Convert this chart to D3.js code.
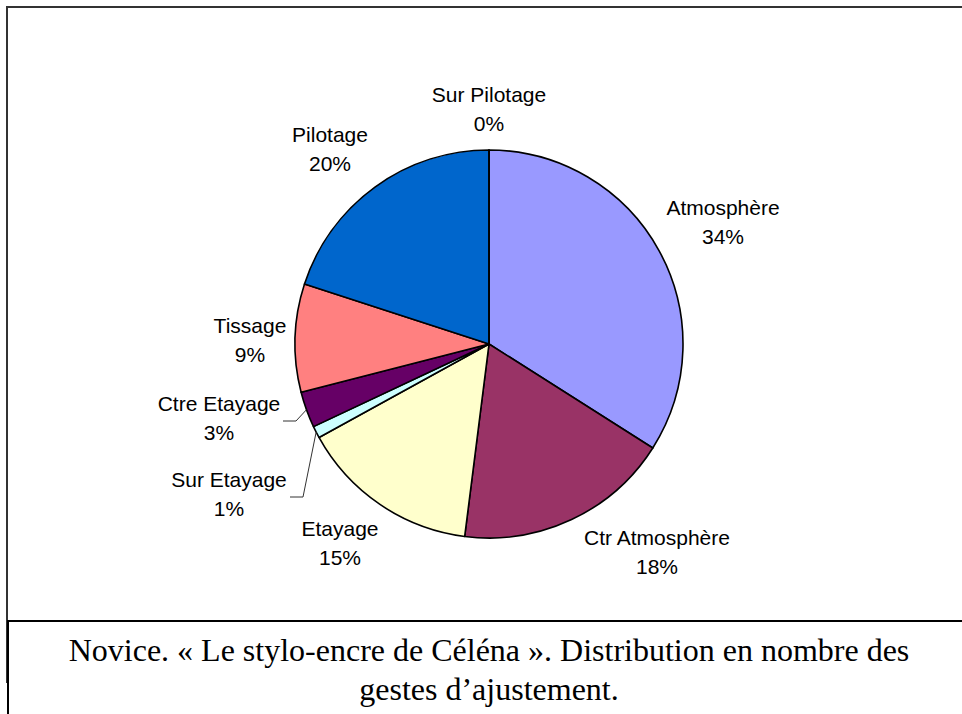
<!DOCTYPE html>
<html>
<head>
<meta charset="utf-8">
<script src="https://cdn.jsdelivr.net/npm/d3@7"></script>
<style>
  body { margin: 0; background: #fff; }
  svg { display: block; }
  .lbl { font-family: 'Liberation Sans', Arial, sans-serif; font-size: 21px; fill: #000; }
  .cap { font-family: 'Liberation Serif', 'Times New Roman', serif; font-size: 32px; fill: #000; }
</style>
</head>
<body>
<div id="chart"></div>
<script>
// slice data, clockwise from 12 o'clock
const categories = ['Atmosphère', 'Ctr Atmosphère', 'Etayage', 'Sur Etayage', 'Ctre Etayage', 'Tissage', 'Pilotage', 'Sur Pilotage'];
const values = [34, 18, 15, 1, 3, 9, 20, 0];
const colors = ['#9999FF', '#993366', '#FFFFCC', '#CCFFFF', '#660066', '#FF8080', '#0066CC', '#CCCCFF'];
const captionLines = ['Novice. « Le stylo-encre de Céléna ». Distribution en nombre des', 'gestes d\u2019ajustement.'];

// where excel put each label (center x, first baseline)
const labelPos = {
    'Atmosphère': [723, 215],
    'Ctr Atmosphère': [657, 545],
    'Etayage': [340, 536],
    'Sur Etayage': [229, 487],
    'Ctre Etayage': [219, 411],
    'Tissage': [250, 333],
    'Pilotage': [330, 142],
    'Sur Pilotage': [489, 102],
};
// labels with a leader line: [x of line start, y]
const leaders = {
    'Sur Etayage': [290, 497],
    'Ctre Etayage': [283, 421],
};

const width = 962, height = 714;
const cx = 489, cy = 344, radius = 194;

const svg = d3.select('#chart').append('svg').attr('width', width).attr('height', height);

// frame
svg.append('line').attr('x1', 6).attr('y1', 7).attr('x2', width).attr('y2', 7)
    .attr('stroke', '#333').attr('stroke-width', 2);
svg.append('line').attr('x1', 7).attr('y1', 6).attr('x2', 7).attr('y2', 683)
    .attr('stroke', '#333').attr('stroke-width', 2);
svg.append('line').attr('x1', 8).attr('y1', 621).attr('x2', width).attr('y2', 621)
    .attr('stroke', '#000').attr('stroke-width', 2);
svg.append('line').attr('x1', 8).attr('y1', 620).attr('x2', 8).attr('y2', height)
    .attr('stroke', '#000').attr('stroke-width', 2);

const g = svg.append('g').attr('transform', `translate(${cx}, ${cy})`);

const data = categories.map((c, i) => ({ name: c, value: values[i], color: colors[i] }));
const pie = d3.pie().value((d) => d.value).sort(null);
const arcs = pie(data);
const arc = d3.arc().innerRadius(0).outerRadius(radius);
const total = d3.sum(values);

g.selectAll('path.slice')
    .data(arcs)
    .enter()
    .append('path')
    .attr('class', 'slice')
    .attr('d', arc)
    .attr('fill', (d) => d.data.color)
    .attr('stroke', '#000')
    .attr('stroke-width', 1.6)
    .attr('stroke-linejoin', 'round');

// leader lines for the thin slices
const edge = d3.arc().innerRadius(radius).outerRadius(radius);
arcs.filter((d) => leaders[d.data.name]).forEach((d) => {
    const [lx, ly] = leaders[d.data.name];
    const [ex, ey] = edge.centroid(d);
    svg.append('polyline')
        .attr('points', `${lx},${ly} ${lx + 13},${ly} ${cx + ex},${cy + ey}`)
        .attr('fill', 'none')
        .attr('stroke', '#333')
        .attr('stroke-width', 1);
});

// labels
arcs.forEach((d) => {
    const [x, y] = labelPos[d.data.name];
    const t = svg.append('text').attr('class', 'lbl').attr('text-anchor', 'middle');
    t.append('tspan').attr('x', x).attr('y', y).text(d.data.name);
    t.append('tspan').attr('x', x).attr('y', y + 29)
        .text(Math.round((d.data.value / total) * 100) + '%');
});

// caption
svg.selectAll('text.cap')
    .data(captionLines)
    .enter()
    .append('text')
    .attr('class', 'cap')
    .attr('text-anchor', 'middle')
    .attr('x', 489)
    .attr('y', (d, i) => 661 + i * 39)
    .text((d) => d);
</script>
</body>
</html>
